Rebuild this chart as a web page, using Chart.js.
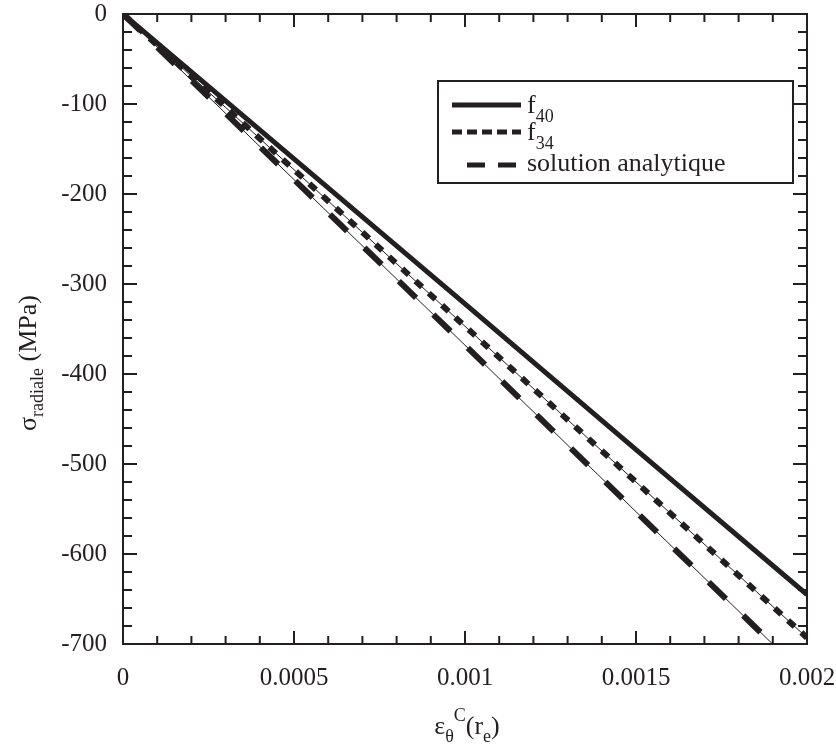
<!DOCTYPE html>
<html><head><meta charset="utf-8">
<script src="https://cdn.jsdelivr.net/npm/chart.js@4/dist/chart.umd.min.js"></script>
<style>html,body{margin:0;padding:0;background:#fff}canvas{display:block}</style>
</head><body>
<canvas id="c" width="836" height="749"></canvas>
<script>
// ---- data ----
const strainX = [0, 0.0005, 0.001, 0.0015, 0.002];
const f40 = [0, -161, -322, -484, -645];
const f34 = [0, -173, -347, -520, -693];
const analytique = [0, -184, -368, -553, -737];

const xTickValues = [0, 0.0005, 0.001, 0.0015, 0.002];
const xTickLabels = ['0', '0.0005', '0.001', '0.0015', '0.002'];
const yTickValues = [-700, -600, -500, -400, -300, -200, -100, 0];
const yTickLabels = ['-700', '-600', '-500', '-400', '-300', '-200', '-100', '0'];
const xMinorStep = 0.0001;
const yMinorStep = 20;

const legendNames = ['f', 'f', 'solution analytique'];
const legendSubs = ['40', '34', ''];

const INK = '#231f20';
const SERIF = '"Liberation Serif", "Times New Roman", serif';

const pts = (ys) => strainX.map((x, i) => ({x: x, y: ys[i]}));
const noPad = s => { s.paddingLeft = 0; s.paddingRight = 0; s.paddingTop = 0; s.paddingBottom = 0; };

const framePlugin = {
  id: 'frame',
  afterDatasetsDraw(chart) {
    const {ctx, chartArea: a, scales: {x, y}} = chart;
    ctx.save();
    ctx.strokeStyle = INK;
    ctx.lineWidth = 2;
    ctx.strokeRect(a.left, a.top, a.right - a.left, a.bottom - a.top);
    const nx = Math.round((x.max - x.min) / xMinorStep);
    for (let i = 0; i <= nx; i++) {
      const px = x.getPixelForValue(x.min + i * xMinorStep);
      const len = i % 5 === 0 ? 13 : 8;
      ctx.beginPath();
      ctx.moveTo(px, a.bottom); ctx.lineTo(px, a.bottom - len);
      ctx.moveTo(px, a.top); ctx.lineTo(px, a.top + len);
      ctx.stroke();
    }
    const ny = Math.round((y.max - y.min) / yMinorStep);
    for (let i = 0; i <= ny; i++) {
      const py = y.getPixelForValue(y.min + i * yMinorStep);
      const len = i % 5 === 0 ? 14 : 9;
      ctx.beginPath();
      ctx.moveTo(a.left, py); ctx.lineTo(a.left + len, py);
      ctx.moveTo(a.right, py); ctx.lineTo(a.right - len, py);
      ctx.stroke();
    }
    ctx.restore();
  },
  afterDraw(chart) {
    const {ctx, chartArea: a} = chart;
    ctx.save();
    ctx.fillStyle = INK;
    ctx.strokeStyle = INK;
    ctx.textBaseline = 'alphabetic';
    ctx.textAlign = 'left';
    // ---- legend ----
    ctx.lineWidth = 2;
    ctx.strokeRect(438, 81, 355, 102);
    const rowsY = [105, 132, 165];
    const dashes = [[], [10, 5], [18, 13]];
    const starts = [452, 452, 467];
    for (let i = 0; i < 3; i++) {
      ctx.beginPath();
      ctx.lineWidth = 5;
      ctx.lineCap = 'butt';
      ctx.setLineDash(dashes[i]);
      ctx.moveTo(starts[i], rowsY[i]);
      ctx.lineTo(521, rowsY[i]);
      ctx.stroke();
      ctx.setLineDash([]);
      ctx.font = '26px ' + SERIF;
      const base = rowsY[i] + (i === 2 ? 6 : 8);
      ctx.fillText(legendNames[i], 527, base);
      if (legendSubs[i]) {
        const w = ctx.measureText(legendNames[i]).width;
        ctx.font = '18px ' + SERIF;
        ctx.fillText(legendSubs[i], 527 + w, base + 9);
      }
    }
    // ---- x title: ε_θ^C(r_e) ----
    const parts = [
      ['ε', 26, 0], ['θ', 18, 8], ['C', 18, -13], ['(r', 26, 0], ['e', 18, 8], [')', 26, 0]
    ];
    let total = 0;
    parts.forEach(p => { ctx.font = p[1] + 'px ' + SERIF; total += ctx.measureText(p[0]).width; });
    let cx = (a.left + a.right) / 2 - total / 2 + 2;
    parts.forEach(p => {
      ctx.font = p[1] + 'px ' + SERIF;
      ctx.fillText(p[0], cx, 734 + p[2]);
      cx += ctx.measureText(p[0]).width;
    });
    // ---- y title: σ_radiale (MPa) ----
    const yparts = [['σ', 26, 0], ['radiale', 18, 7], [' (MPa)', 26, 0]];
    ctx.translate(36, 431);
    ctx.rotate(-Math.PI / 2);
    let cy = 0;
    yparts.forEach(p => {
      ctx.font = p[1] + 'px ' + SERIF;
      ctx.fillText(p[0], cy, p[2]);
      cy += ctx.measureText(p[0]).width;
    });
    ctx.restore();
  }
};

new Chart(document.getElementById('c'), {
  type: 'line',
  data: {
    datasets: [
      {label: 'f40', data: pts(f40), borderColor: INK, borderWidth: 5, pointRadius: 0, fill: false, tension: 0, clip: 0},
      {label: 'f34 base', data: pts(f34), borderColor: INK, borderWidth: 1, pointRadius: 0, fill: false, tension: 0, clip: 0},
      {label: 'f34', data: pts(f34), borderColor: INK, borderWidth: 6, borderDash: [9, 9], borderCapStyle: 'butt', pointRadius: 0, fill: false, tension: 0, clip: 0},
      {label: 'analytique base', data: pts(analytique), borderColor: INK, borderWidth: 1, pointRadius: 0, fill: false, tension: 0, clip: 0},
      {label: 'solution analytique', data: pts(analytique), borderColor: INK, borderWidth: 6, borderDash: [24, 24], borderCapStyle: 'butt', pointRadius: 0, fill: false, tension: 0, clip: 0}
    ]
  },
  options: {
    responsive: false,
    animation: false,
    devicePixelRatio: 1,
    layout: {padding: {left: 0, top: 14, right: 29, bottom: 0}},
    plugins: {legend: {display: false}, tooltip: {enabled: false}, title: {display: false}},
    scales: {
      x: {
        type: 'linear', min: 0, max: 0.002,
        grid: {display: false, drawTicks: false}, border: {display: false},
        afterBuildTicks: s => { s.ticks = xTickValues.map(v => ({value: v})); },
        ticks: {
          autoSkip: false, maxRotation: 0, padding: 22, color: INK,
          font: {family: SERIF, size: 25, lineHeight: 1},
          callback: (v) => xTickLabels[xTickValues.indexOf(v)]
        },
        afterFit: s => { s.height = 105; noPad(s); }
      },
      y: {
        type: 'linear', min: -700, max: 0,
        grid: {display: false, drawTicks: false}, border: {display: false},
        afterBuildTicks: s => { s.ticks = yTickValues.map(v => ({value: v})); },
        ticks: {
          autoSkip: false, padding: 16, color: INK,
          font: {family: SERIF, size: 25, lineHeight: 1},
          callback: (v) => yTickLabels[yTickValues.indexOf(v)]
        },
        afterFit: s => { s.width = 123; noPad(s); }
      }
    }
  },
  plugins: [framePlugin]
});
</script>
</body></html>
